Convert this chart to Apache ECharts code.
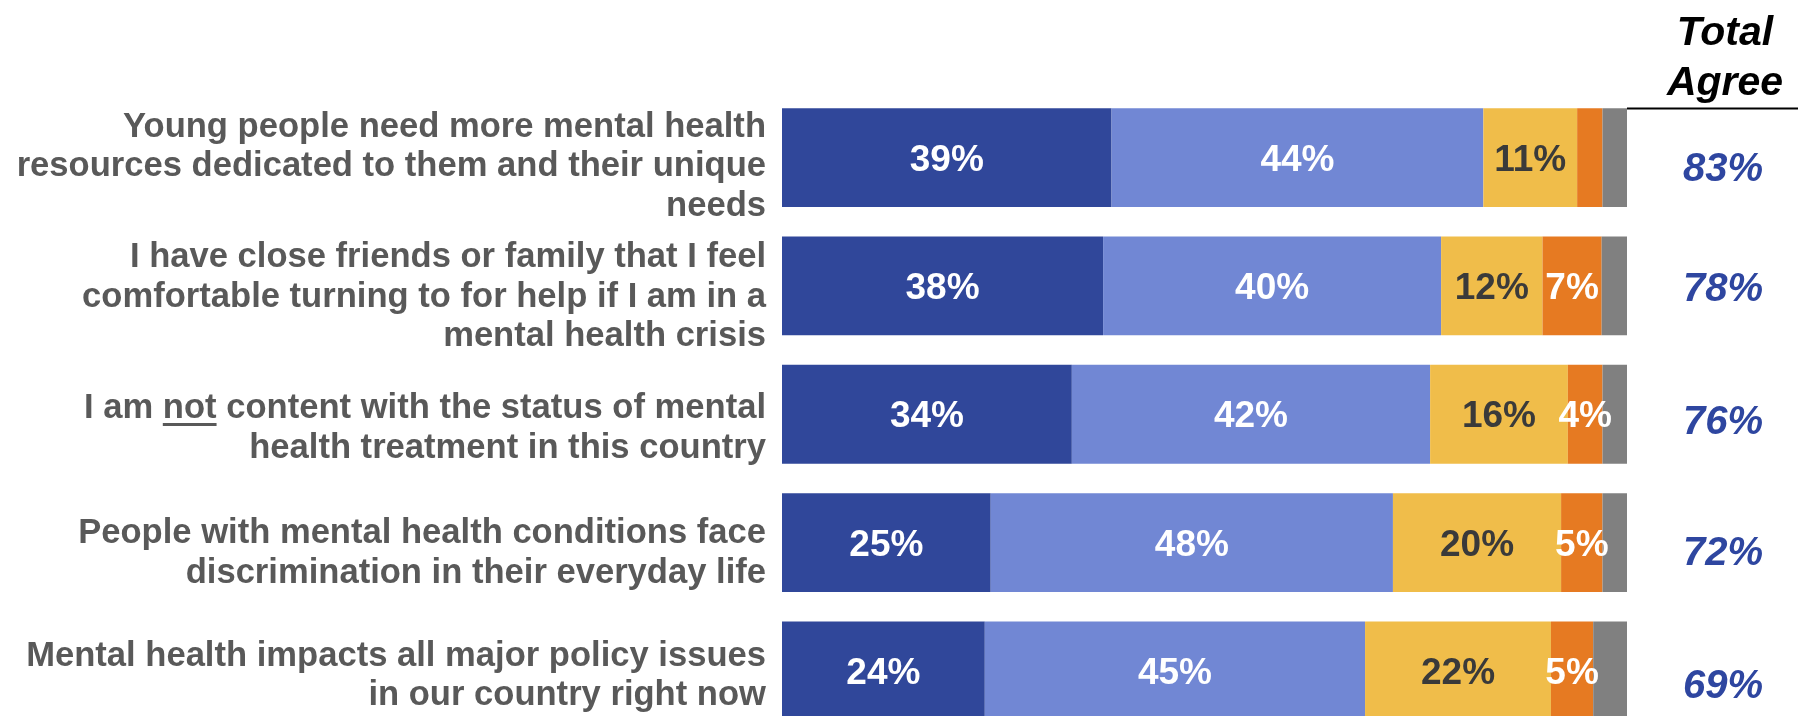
<!DOCTYPE html>
<html>
<head>
<meta charset="utf-8">
<script src="https://cdn.jsdelivr.net/npm/echarts@6/dist/echarts.min.js"></script>
<style>
  html, body { margin: 0; padding: 0; background: #ffffff; overflow: hidden; }
  #chart { width: 1798px; height: 745px; }
</style>
</head>
<body>
<div id="chart"></div>
<script>
// ---- Data ----
const categories = [
  "Young people need more mental health\nresources dedicated to them and their unique\nneeds",
  "I have close friends or family that I feel\ncomfortable turning to for help if I am in a\nmental health crisis",
  "I am {u|not} content with the status of mental\nhealth treatment in this country",
  "People with mental health conditions face\ndiscrimination in their everyday life",
  "Mental health impacts all major policy issues\nin our country right now"
];
const stronglyAgree    = [39.0, 38.0, 34.3, 24.7, 24.0];
const somewhatAgree    = [44.0, 40.0, 42.4, 47.6, 45.0];
const somewhatDisagree = [11.1, 12.0, 16.3, 19.9, 22.0];
const stronglyDisagree = [3.0, 7.0, 4.1, 4.9, 5.0];
const dontKnow         = [2.9, 3.0, 2.9, 2.9, 4.0];
const totalAgree       = [83, 78, 76, 72, 69];
const headerText = "Total\nAgree";

// ---- Styling / layout (not data) ----
const FONT = 'Arial, "Liberation Sans", sans-serif';
const colors = ['#30479A', '#7187D4', '#F0BD4A', '#E67A22', '#808080'];
const labelColors = ['#ffffff', '#ffffff', '#3A3A3A', '#ffffff', '#ffffff'];
// vertical nudges (px of top spacer; text moves down by half)
const catNudge = [18, 23, 28, 22, 10];
const totNudge = [24, 8, 18, 23, 32];
const CAT_LH = 39.5;

const chart = echarts.init(document.getElementById('chart'), null, { renderer: 'canvas' });

function makeSeries(name, data, idx, showLabels) {
  return {
    name: name,
    type: 'bar',
    stack: 'total',
    data: data,
    barWidth: '77%',
    itemStyle: { color: colors[idx] },
    label: {
      show: showLabels,
      position: 'inside',
      offset: [0, 3],
      color: labelColors[idx],
      fontFamily: FONT,
      fontWeight: 'bold',
      fontSize: 37,
      formatter: function (p) {
        return p.value >= 3.5 ? Math.round(p.value) + '%' : '';
      }
    },
    emphasis: { disabled: true },
    silent: true
  };
}

const underline = new echarts.graphic.LinearGradient(0, 0, 0, 1, [
  { offset: 0, color: 'rgba(89,89,89,0)' },
  { offset: 0.87, color: 'rgba(89,89,89,0)' },
  { offset: 0.87, color: '#595959' },
  { offset: 0.94, color: '#595959' },
  { offset: 0.94, color: 'rgba(89,89,89,0)' },
  { offset: 1, color: 'rgba(89,89,89,0)' }
]);

function spacerRich() {
  const r = {};
  for (let h = 1; h <= 40; h++) {
    r['s' + h] = { fontSize: 1, height: h, lineHeight: h };
  }
  return r;
}
const spacers = spacerRich();

const option = {
  animation: false,
  backgroundColor: '#ffffff',
  grid: { left: 782, right: 171, top: 93.5, height: 641.5, containLabel: false },
  xAxis: { type: 'value', min: 0, max: 100, show: false },
  yAxis: [
    {
      type: 'category',
      data: categories,
      inverse: true,
      axisLine: { show: false },
      axisTick: { show: false },
      splitLine: { show: false },
      axisLabel: {
        interval: 0,
        hideOverlap: false,
        margin: 16,
        align: 'right',
        fontFamily: FONT,
        fontWeight: 'bold',
        fontSize: 34.6,
        lineHeight: CAT_LH,
        color: '#595959',
        formatter: function (v, i) {
          const h = catNudge[i];
          return (h > 0 ? '{s' + h + '| }\n' : '') + v;
        },
        rich: Object.assign({
          u: {
            fontFamily: FONT,
            fontWeight: 'bold',
            fontSize: 34.6,
            lineHeight: CAT_LH,
            height: CAT_LH,
            color: '#595959',
            backgroundColor: underline
          }
        }, spacers)
      }
    },
    {
      type: 'category',
      data: categories,
      inverse: true,
      position: 'right',
      axisLine: { show: false },
      axisTick: { show: false },
      splitLine: { show: false },
      axisLabel: {
        interval: 0,
        hideOverlap: false,
        margin: 96,
        align: 'center',
        fontFamily: FONT,
        fontWeight: 'bold',
        fontStyle: 'italic',
        fontSize: 40,
        lineHeight: 46,
        color: '#2E46A0',
        formatter: function (v, i) {
          const h = totNudge[i];
          return (h > 0 ? '{s' + h + '| }\n' : '') + totalAgree[i] + '%';
        },
        rich: spacers
      }
    }
  ],
  series: [
    makeSeries('Strongly agree', stronglyAgree, 0, true),
    makeSeries('Somewhat agree', somewhatAgree, 1, true),
    makeSeries('Somewhat disagree', somewhatDisagree, 2, true),
    makeSeries('Strongly disagree', stronglyDisagree, 3, true),
    makeSeries("Don't know", dontKnow, 4, false)
  ],
  graphic: [
    {
      type: 'text',
      x: 1725,
      y: 9,
      style: {
        text: headerText,
        textAlign: 'center',
        textVerticalAlign: 'top',
        fontFamily: FONT,
        fontSize: 41,
        fontWeight: 'bold',
        fontStyle: 'italic',
        lineHeight: 50,
        fill: '#000000'
      }
    },
    {
      type: 'line',
      shape: { x1: 1627, y1: 108.5, x2: 1798, y2: 108.5 },
      style: { stroke: '#000000', lineWidth: 2 }
    }
  ]
};

chart.setOption(option);
</script>
</body>
</html>
